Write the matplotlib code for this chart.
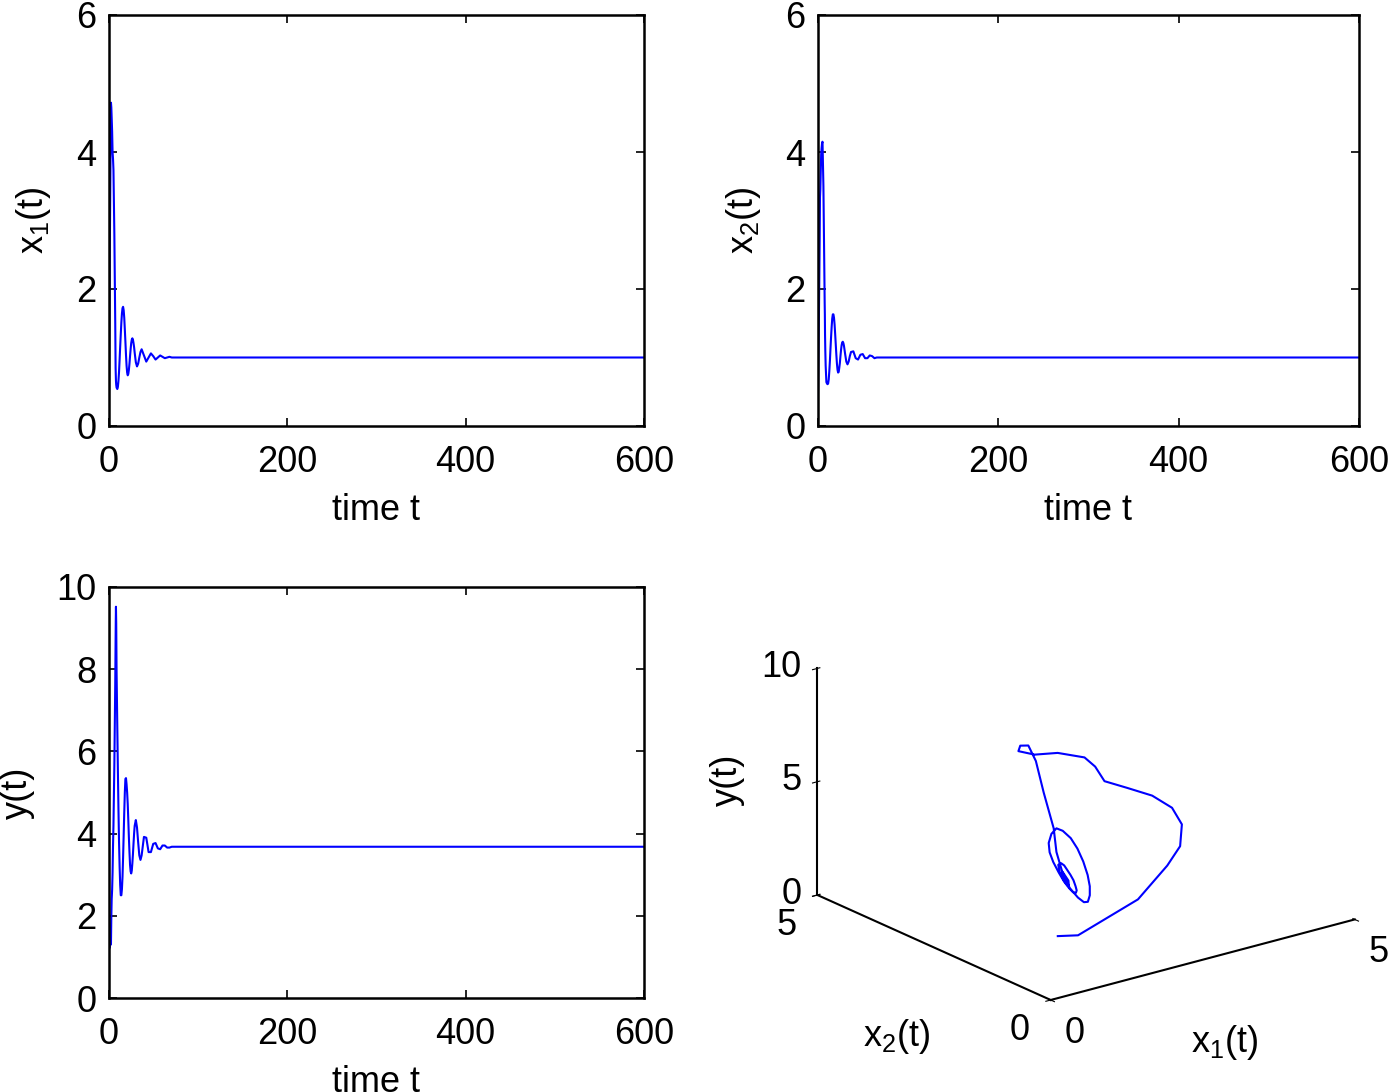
import numpy as np
import matplotlib
matplotlib.use("Agg")
import matplotlib.pyplot as plt

plt.rcParams['font.family'] = ['Liberation Sans', 'DejaVu Sans']
plt.rcParams['mathtext.default'] = 'regular'

# =========================
# data (common time grid)
# =========================
t = [0, 0.4, 0.9, 1.5, 1.85, 2.2, 2.6, 3.0, 3.5, 4.0, 4.5, 5.0, 6.0, 7.0, 7.4,
     7.6, 7.8, 8.1, 8.5,
     9.3, 9.95, 10.6, 11.25, 11.9, 12.55, 13.2, 13.85, 14.5, 15.15, 15.8,
     16.45, 17.1, 17.75, 18.4, 19.05, 19.7, 20.35, 21.0, 21.65, 22.3, 22.95,
     23.6, 24.25, 24.9, 25.55, 26.2, 26.85, 27.5, 28.15, 28.8,
     30.1, 31.4, 32.7, 34.0, 35.3, 36.6, 39.2, 41.8, 44.4, 47.0, 49.6, 52.2,
     54.8, 57.4, 60.0, 62.6, 65.2, 67.8, 70.4, 80, 600]

x1 = [0.5, 1.14, 2.54, 3.62, 4.2, 4.72, 4.65, 4.5, 4.3, 4.0, 3.9, 3.74, 2.8, 1.5, 0.85,
      0.75, 0.66, 0.6, 0.56,
      0.54, 0.57, 0.66, 0.79, 0.97, 1.16, 1.34, 1.51, 1.64, 1.72, 1.74,
      1.69, 1.58, 1.41, 1.23, 1.04, 0.88, 0.78, 0.74, 0.76, 0.82, 0.91,
      1.02, 1.12, 1.21, 1.26, 1.28, 1.26, 1.21, 1.15, 1.07,
      0.93, 0.87, 0.91, 1.00, 1.08, 1.12, 1.03, 0.94, 1.00, 1.06, 1.02, 0.97,
      1.00, 1.03, 1.01, 0.99, 1.00, 1.01, 1.00, 1.0, 1.0]

x2 = [0.5, 0.9, 1.44, 2.22, 2.7, 3.34, 3.46, 3.69, 3.96, 4.06, 4.13, 4.15, 3.5, 2.3, 1.8,
      1.63, 1.34, 1.1, 0.88,
      0.64, 0.62, 0.61, 0.62, 0.68, 0.80, 0.95, 1.13, 1.30, 1.45, 1.57,
      1.63, 1.63, 1.58, 1.48, 1.34, 1.19, 1.04, 0.91, 0.82, 0.78, 0.79,
      0.85, 0.92, 1.02, 1.11, 1.18, 1.22, 1.23, 1.21, 1.17,
      1.05, 0.94, 0.90, 0.94, 1.02, 1.08, 1.09, 0.99, 0.97, 1.04, 1.05, 0.99,
      0.99, 1.03, 1.02, 0.99, 1.00, 1.00, 1.00, 1.0, 1.0]

y = [2.0, 1.21, 1.3, 1.3, 1.3, 1.3, 1.97, 2.4, 2.63, 3.05, 3.7, 4.2, 5.67, 7.63, 8.71,
     9.18, 9.52, 9.1, 7.94,
     6.6, 5.55, 4.6, 3.8, 3.2, 2.75, 2.5, 2.5, 2.65, 2.95, 3.42,
     3.97, 4.51, 5.0, 5.33, 5.35, 5.2, 5.0, 4.72, 4.33, 3.91, 3.55,
     3.24, 3.08, 3.03, 3.1, 3.28, 3.5, 3.76, 4.0, 4.19,
     4.33, 4.15, 3.79, 3.47, 3.36, 3.47, 3.92, 3.9, 3.55, 3.55, 3.75, 3.77,
     3.64, 3.62, 3.71, 3.71, 3.66, 3.66, 3.68, 3.68, 3.68]

time_ticks = [0, 200, 400, 600]

# =========================
# figure
# =========================
W, H = 1396, 1092
fig = plt.figure(figsize=(W / 100, H / 100), dpi=100)
blue = (0, 0, 1)


def px_rect(x0, y0, x1_, y1_):
    return [x0 / W, 1 - y1_ / H, (x1_ - x0) / W, (y1_ - y0) / H]


def time_panel(rect, vals, ylabel, ylim, yticks, label_x):
    ax = fig.add_axes(rect)
    ax.plot(t, vals, color=blue, linewidth=1.5)
    ax.set_xlim(0, 600)
    ax.set_ylim(ylim)
    ax.set_xticks(time_ticks)
    ax.set_yticks(yticks)
    ax.tick_params(direction='in', length=6, width=1.2, top=True, right=True,
                   labelsize=26)
    ax.tick_params(axis='x', pad=14)
    ax.tick_params(axis='y', pad=9)
    for s in ax.spines.values():
        s.set_linewidth(1.8)
    ax.set_xlabel("time t", fontsize=26, labelpad=9)
    ax.set_ylabel(ylabel, fontsize=26)
    ax.yaxis.set_label_coords(label_x, 0.5)
    return ax


time_panel(px_rect(109, 15, 644, 426), x1, "x$_1$(t)", (0, 6), [0, 2, 4, 6], -0.105)
time_panel(px_rect(818, 15, 1359, 426), x2, "x$_2$(t)", (0, 6), [0, 2, 4, 6], -0.102)
time_panel(px_rect(109, 587, 644, 998), y, "y(t)", (0, 10), [0, 2, 4, 6, 8, 10], -0.138)

# 3D phase portrait
ax3 = fig.add_axes(px_rect(750, 575, 1410, 1025), projection='3d')
ax3.plot(x1, x2, y, color=blue, linewidth=1.5)
ax3.set_proj_type('ortho')
ax3.view_init(elev=20.2, azim=-127.5)
ax3.set_box_aspect((1, 1, 0.63), zoom=1.28)
ax3.set_xlim(0, 5)
ax3.set_ylim(0, 5)
ax3.set_zlim(0, 10)
ax3.set_xticks([0, 5])
ax3.set_yticks([0, 5])
ax3.set_zticks([0, 5, 10])
ax3.grid(False)
for axis in (ax3.xaxis, ax3.yaxis, ax3.zaxis):
    axis.set_pane_color((1, 1, 1, 0))
    axis.pane.set_edgecolor((1, 1, 1, 0))
    axis.line.set_linewidth(1.5)
ax3.tick_params(labelsize=26)
ax3.tick_params(axis='x', pad=9)
ax3.tick_params(axis='y', pad=9)
ax3.tick_params(axis='z', pad=-3)
for lbl in ax3.get_xticklabels() + ax3.get_yticklabels():
    lbl.set_va('center')
    lbl.set_ha('center')
for lbl in ax3.get_zticklabels():
    lbl.set_va('center')
    lbl.set_ha('right')

fig.text(1225 / W, 1 - 1042 / H, "x$_1$(t)", fontsize=26, ha='center', va='center')
fig.text(897 / W, 1 - 1037 / H, "x$_2$(t)", fontsize=26, ha='center', va='center')
fig.text(727 / W, 1 - 780 / H, "y(t)", fontsize=26, ha='center', va='center',
         rotation=90)

fig.savefig("out.png", dpi=100)
